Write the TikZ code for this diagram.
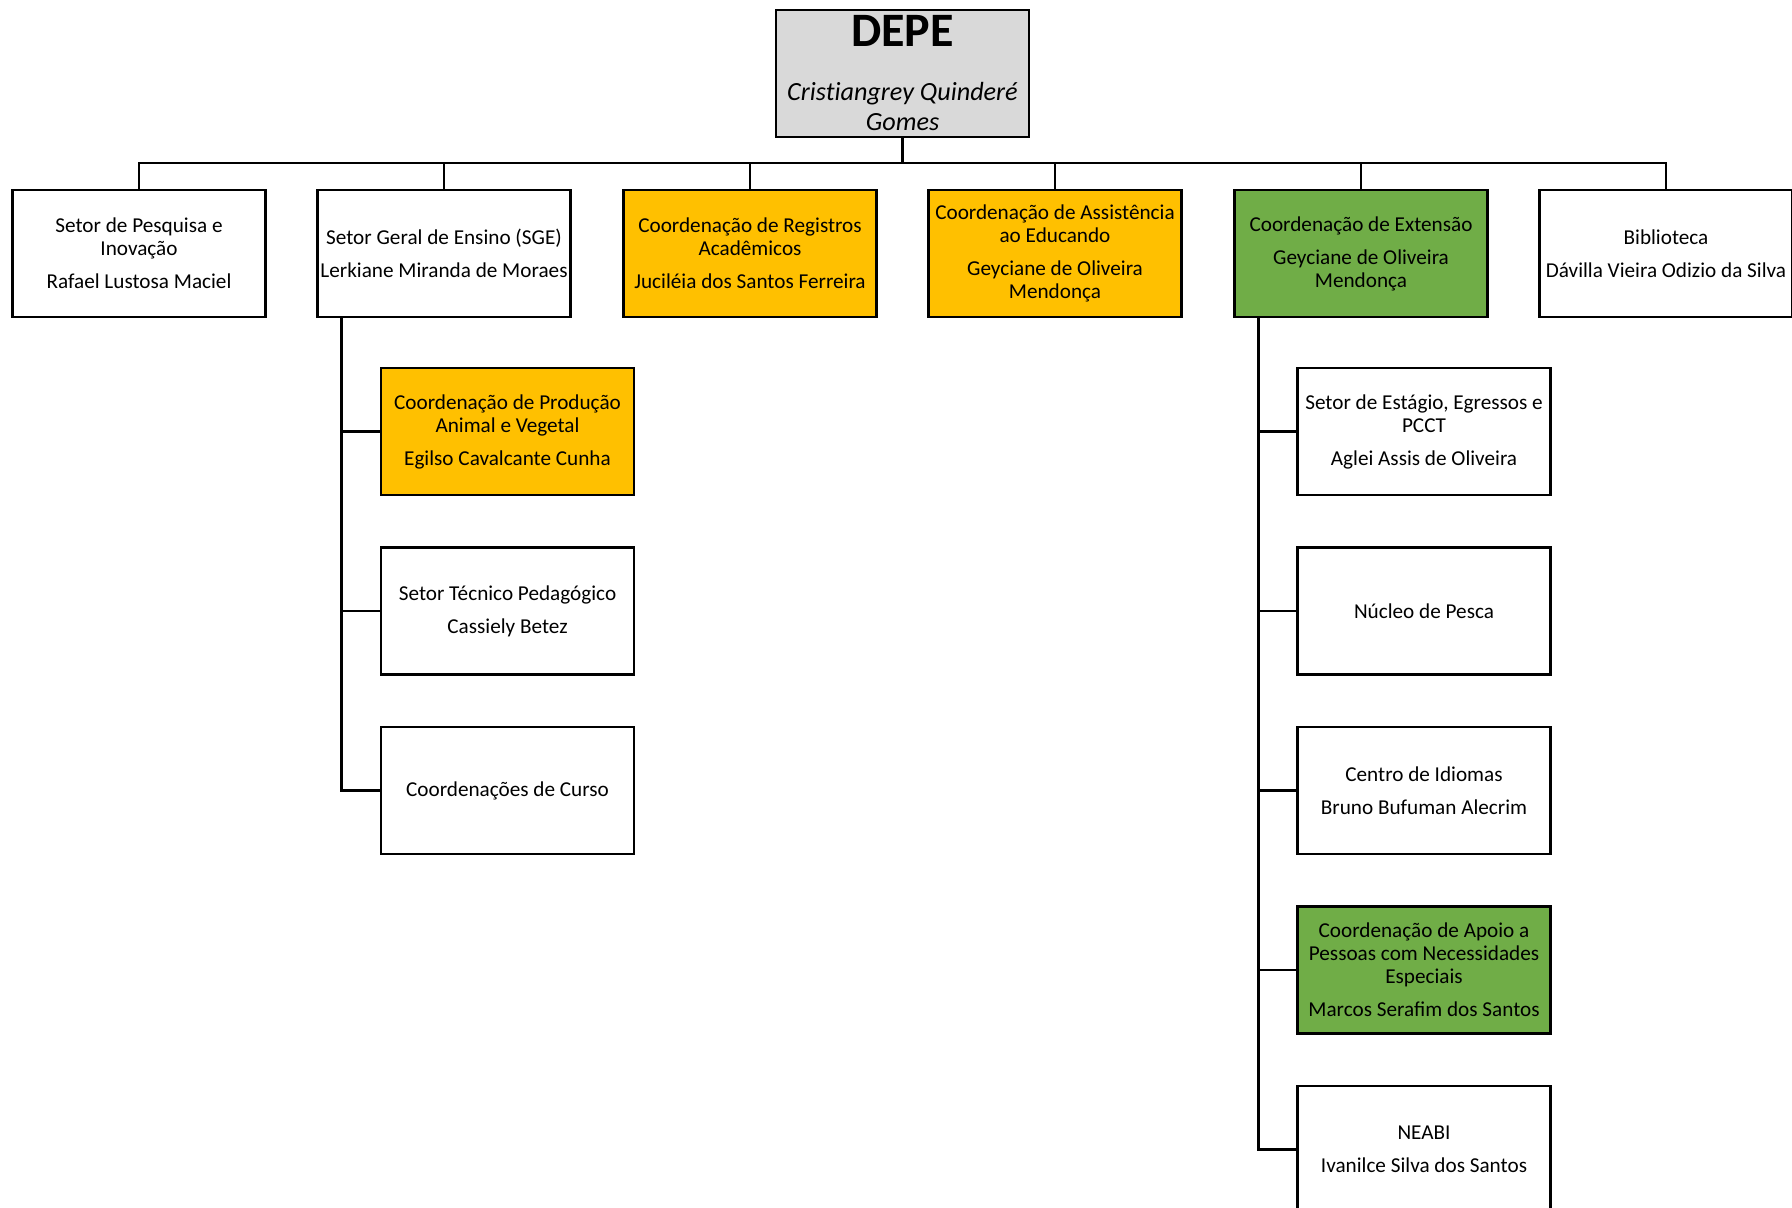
\documentclass[tikz,border=0pt]{standalone}
\usepackage{fontspec}
\setmainfont{Carlito}
\newfontfamily\nameit{Carlito}[Ligatures=NoCommon]
\definecolor{gold}{HTML}{FFC000}
\definecolor{leaf}{HTML}{70AD47}
\definecolor{greybox}{HTML}{D9D9D9}
\newcommand{\pgap}{\\[5pt]}
\begin{document}
\begin{tikzpicture}[x=0.5pt,y=-0.5pt,
  unit/.style={draw=black, line width=1.3pt, minimum width=126.5pt, minimum height=63.5pt,
    inner sep=0pt, align=center, font=\fontsize{10.6pt}{11.5pt}\selectfont, fill=white},
  goldunit/.style={unit, fill=gold},
  leafunit/.style={unit, fill=leaf},
  link/.style={line width=1.4pt, line join=miter}]
\useasboundingbox (0,0) rectangle (1792,1208);
% top box
\node[unit, fill=greybox] (depe) at (902.5,73.5) {};
\node[anchor=base, font=\fontsize{24pt}{28pt}\selectfont\bfseries] (depet) at (902.5,47) {DEPE};
\node[anchor=base, font=\fontsize{13.1pt}{14.75pt}\nameit\itshape] (depen1) at (902.5,101) {Cristiangrey Quinderé};
\node[anchor=base, font=\fontsize{13.1pt}{14.75pt}\nameit\itshape] (depen2) at (902.5,130.5) {Gomes};
% second row
\node[unit] (b1) at (139,253.5) {Setor de Pesquisa e\\Inovação\pgap Rafael Lustosa Maciel};
\node[unit] (b2) at (444,253.5) {Setor Geral de Ensino (SGE)\pgap Lerkiane Miranda de Moraes};
\node[goldunit] (b3) at (750,253.5) {Coordenação de Registros\\Acadêmicos\pgap Juciléia dos Santos Ferreira};
\node[goldunit] (b4) at (1055,253.5) {Coordenação de Assistência\\ao Educando\pgap Geyciane de Oliveira\\Mendonça};
\node[leafunit] (b5) at (1361,253.5) {Coordenação de Extensão\pgap Geyciane de Oliveira\\Mendonça};
\node[unit] (b6) at (1666,253.5) {Biblioteca\pgap Dávilla Vieira Odizio da Silva};
% SGE children
\node[goldunit] (c1) at (507.5,431.5) {Coordenação de Produção\\Animal e Vegetal\pgap Egilso Cavalcante Cunha};
\node[unit] (c2) at (507.5,611) {Setor Técnico Pedagógico\pgap Cassiely Betez};
\node[unit] (c3) at (507.5,790.5) {Coordenações de Curso};
% Extensao children
\node[unit] (e1) at (1424,431.5) {Setor de Estágio, Egressos e\\PCCT\pgap Aglei Assis de Oliveira};
\node[unit] (e2) at (1424,611) {Núcleo de Pesca};
\node[unit] (e3) at (1424,790.5) {Centro de Idiomas\pgap Bruno Bufuman Alecrim};
\node[leafunit] (e4) at (1424,970) {Coordenação de Apoio a\\Pessoas com Necessidades\\Especiais\pgap Marcos Serafim dos Santos};
\node[unit] (e5) at (1424,1149.5) {NEABI\pgap Ivanilce Silva dos Santos};
% bus
\coordinate (bus) at (902.5,163);
\draw[link] (depe.south) -- (bus);
\draw[link] (b1.north) -- (b1.north |- bus) -- (b6.north |- bus) -- (b6.north);
\foreach \n in {b2,b3,b4,b5} \draw[link] (\n.north) -- (\n.north |- bus);
% SGE trunk
\coordinate (t2) at ([xshift=12.5pt]b2.south west);
\draw[link] (t2) |- (c3.west);
\foreach \n in {c1,c2} \draw[link] (t2) |- (\n.west);
% Extensao trunk
\coordinate (t5) at ([xshift=12.5pt]b5.south west);
\draw[link] (t5) |- (e5.west);
\foreach \n in {e1,e2,e3,e4} \draw[link] (t5) |- (\n.west);
\end{tikzpicture}
\end{document}
